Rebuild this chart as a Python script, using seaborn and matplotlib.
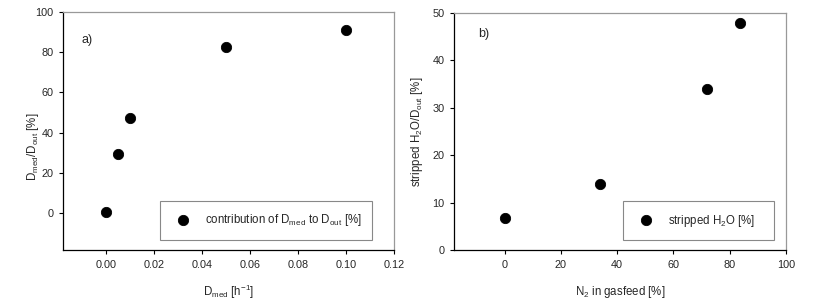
import pandas as pd
import seaborn as sns
import matplotlib.pyplot as plt

# panel a
d_med = [0.0, 0.005, 0.01, 0.05, 0.1]
contrib = [0.5, 29.5, 47.3, 82.7, 90.8]

# panel b
n2_feed = [0.0, 34.0, 72.0, 83.5]
stripped = [6.8, 14.0, 34.0, 47.8]

sns.set_style("ticks")
plt.rcParams['font.family'] = ['Liberation Sans', 'DejaVu Sans']
plt.rcParams['mathtext.default'] = 'regular'

df_a = pd.DataFrame({"x": d_med, "y": contrib})
df_b = pd.DataFrame({"x": n2_feed, "y": stripped})

fig = plt.figure(figsize=(8.15, 3.05), dpi=100)
ax1 = fig.add_axes([63/815, 1 - 250/305, 331/815, 238/305])
ax2 = fig.add_axes([454/815, 1 - 250/305, 332/815, 237/305])


def style(ax):
    for s in ["top", "right"]:
        ax.spines[s].set_color("#999999")
    for s in ["left", "bottom"]:
        ax.spines[s].set_color("black")
    for s in ax.spines.values():
        s.set_linewidth(0.9)
    ax.tick_params(direction="out", length=3, width=0.8, labelsize=7.8, color="black", pad=4)


def add_legend(ax, box):
    leg = ax.legend(loc="lower left", bbox_to_anchor=box, mode="expand",
                    fontsize=8.3, fancybox=False, framealpha=1, borderaxespad=0,
                    handletextpad=0.9, borderpad=1.0, markerscale=1.0)
    leg.get_frame().set_edgecolor("#888888")
    leg.get_frame().set_linewidth(0.8)


sns.scatterplot(data=df_a, x="x", y="y", ax=ax1, color="black", s=55, edgecolor="black",
                label="contribution of $D_{med}$ to $D_{out}$ [%]")
ax1.set_xlim(-0.018, 0.12)
ax1.set_ylim(-18.4, 100)
ax1.set_xticks([0, 0.02, 0.04, 0.06, 0.08, 0.10, 0.12])
ax1.set_xticklabels([f"{v:.2f}" for v in [0, 0.02, 0.04, 0.06, 0.08, 0.10, 0.12]])
ax1.set_yticks([0, 20, 40, 60, 80, 100])
ax1.set_xlabel("$D_{med}$ [h$^{-1}$]", fontsize=8.3, va="center")
ax1.set_ylabel("$D_{med}/D_{out}$ [%]", fontsize=8.3, va="center")
ax1.xaxis.set_label_coords(0.50, -0.176)
ax1.yaxis.set_label_coords(-0.091, 0.435)
ax1.text(0.057, 0.87, "a)", transform=ax1.transAxes, fontsize=9)
style(ax1)
add_legend(ax1, (0.293, 0.042, 0.641, 0.158))

sns.scatterplot(data=df_b, x="x", y="y", ax=ax2, color="black", s=55, edgecolor="black",
                label="stripped $H_2O$ [%]")
ax2.set_xlim(-18, 100)
ax2.set_ylim(0, 50)
ax2.set_xticks([0, 20, 40, 60, 80, 100])
ax2.set_yticks([0, 10, 20, 30, 40, 50])
ax2.set_xlabel("$N_2$ in gasfeed [%]", fontsize=8.3, va="center")
ax2.set_ylabel("stripped $H_2O/D_{out}$ [%]", fontsize=8.3, va="center")
ax2.xaxis.set_label_coords(0.50, -0.177)
ax2.yaxis.set_label_coords(-0.111, 0.50)
ax2.text(0.072, 0.90, "b)", transform=ax2.transAxes, fontsize=9)
style(ax2)
add_legend(ax2, (0.51, 0.042, 0.454, 0.158))

fig.savefig("out.png", dpi=100)
